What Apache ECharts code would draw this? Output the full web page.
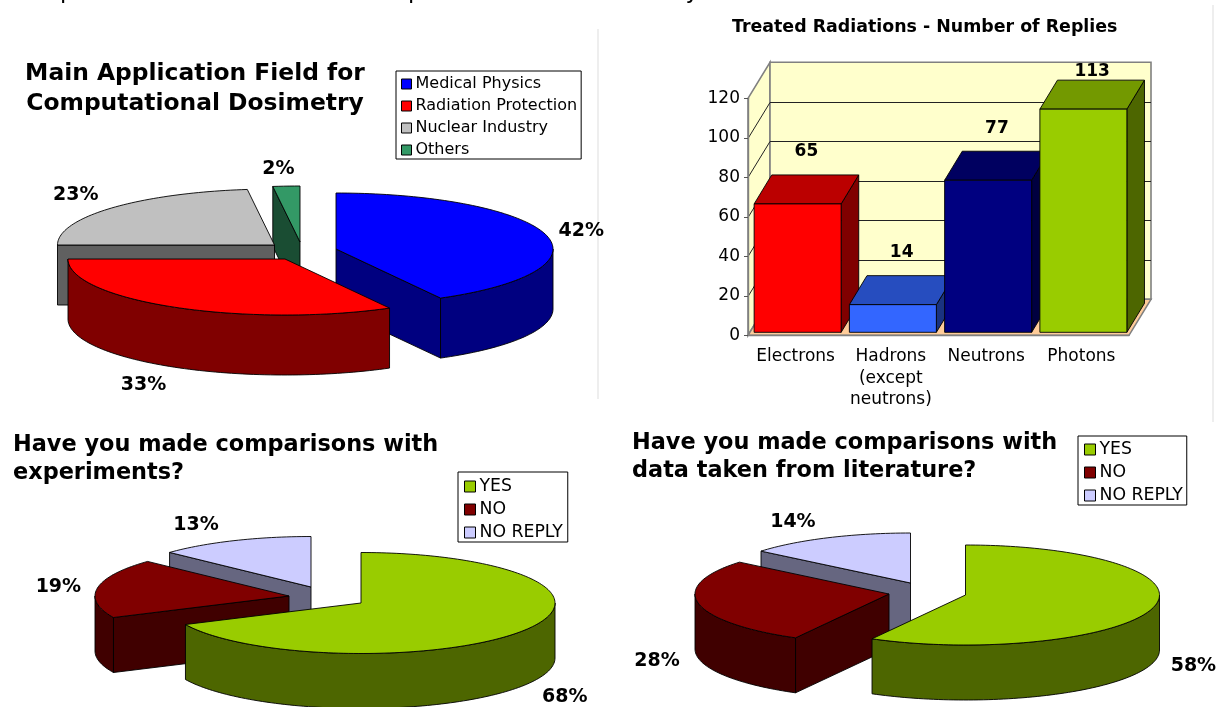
<!DOCTYPE html>
<html><head><meta charset="utf-8">
<style>html,body{margin:0;padding:0;background:#fff}#c{width:1230px;height:707px}</style>
<script src="https://cdn.jsdelivr.net/npm/echarts@6/dist/echarts.min.js"></script>
</head><body><div id="c"></div>
<script>
// ---- data ----
const fieldNames = ['Medical Physics','Radiation Protection','Nuclear Industry','Others'];
const fieldValues = [42,33,23,2];
const expNames = ['YES','NO','NO REPLY'];
const expValues = [68,19,13];
const litNames = ['YES','NO','NO REPLY'];
const litValues = [58,28,14];
const radiationCats = ['Electrons','Hadrons\n(except\nneutrons)','Neutrons','Photons'];
const radiationValues = [65,14,77,113];
const yTicks = [0,20,40,60,80,100,120];

// ---- styling / layout ----
const FONT = '"DejaVu Sans", Verdana, sans-serif';
const pies = [
 {names:fieldNames, values:fieldValues, rx:217, ry:56, depth:60, order:[3,2,0,1],
  colors:['#0000ff','#ff0000','#c0c0c0','#339966'], walls:['#000080','#800000','#606060','#1a4d33'],
  centers:[[336,249],[285,259],[274.5,245],[300,242]],
  labelOff:[[35,-4],[-31,78],[-36,-13],[-8,-17]]},
 {names:expNames, values:expValues, rx:194, ry:50.5, depth:55, order:[2,1,0],
  colors:['#99cc00','#800000','#ccccff'], walls:['#4d6600','#400000','#666680'],
  centers:[[361,603],[289,596],[311,587]],
  labelOff:[[40,67],[-39,-1],[-38,-16]]},
 {names:litNames, values:litValues, rx:194, ry:50, depth:55, order:[2,1,0],
  colors:['#99cc00','#800000','#ccccff'], walls:['#4d6600','#400000','#666680'],
  centers:[[965.5,595],[889,594],[910.5,583]],
  labelOff:[[40,59],[-41.5,58],[-35,-16]]}
];
const barFront=['#ff0000','#3366ff','#000080','#99cc00'];
const barTop=['#bb0000','#264dbf','#000060','#739900'];
const barSide=['#800000','#1a3380','#000040','#4d6600'];
const WALL={dx:22,dy:-36}, BAR={dx0:2,dy0:-3,dx:17.6,dy:-29,w:87};
const LBL=19;

const rad=d=>d*Math.PI/180;
function arcPts(c,rx,ry,a,b,dy){
  const pts=[],n=Math.max(2,Math.ceil(Math.abs(b-a)/1.5));
  for(let i=0;i<=n;i++){const t=rad(a+(b-a)*i/n);pts.push([c[0]+rx*Math.sin(t),c[1]-ry*Math.cos(t)+(dy||0)]);}
  return pts;
}
const stroke={stroke:'#000',lineWidth:0.9};
function poly(points,fill){return {type:'polygon',shape:{points},style:Object.assign({fill},stroke)};}
function pieSeries(p){
  const total=p.values.reduce((a,b)=>a+b,0);
  return p.order.map(i=>({
    type:'custom',name:p.names[i],coordinateSystem:'none',silent:true,animation:false,z:3,
    itemStyle:{color:p.colors[i]},data:[[p.values[i]]],
    renderItem(params,api){
      const v=api.value(0);
      const start=p.values.slice(0,i).reduce((a,b)=>a+b,0)/total*360, end=start+v/total*360;
      const c=p.centers[i],ch=[],d=p.depth;
      const edge=a=>arcPts(c,p.rx,p.ry,a,a,0)[0];
      const face=a=>{const e=edge(a);ch.push(poly([c,e,[e[0],e[1]+d],[c[0],c[1]+d]],p.walls[i]));};
      if(Math.sin(rad(start))<-1e-6)face(start);
      if(Math.sin(rad(end))>1e-6)face(end);
      const a0=Math.max(start,90),a1=Math.min(end,270);
      if(a1>a0){const top=arcPts(c,p.rx,p.ry,a0,a1,0),bot=arcPts(c,p.rx,p.ry,a1,a0,d);ch.push(poly(top.concat(bot),p.walls[i]));}
      ch.push(poly([c].concat(arcPts(c,p.rx,p.ry,start,end,0)),p.colors[i]));
      const m=edge((start+end)/2),o=p.labelOff[i];
      ch.push({type:'text',z2:50,style:{x:m[0]+o[0],y:m[1]+o[1],text:Math.round(v/total*100)+'%',font:'bold '+LBL+'px '+FONT,fill:'#000',align:'center',verticalAlign:'middle'}});
      return {type:'group',children:ch};
    }
  }));
}
const wallSeries={type:'custom',coordinateSystem:'cartesian2d',silent:true,animation:false,z:1,data:[[0,0]],
  renderItem(params,api){
    const g=params.coordSys,{dx,dy}=WALL,ch=[];
    const L=g.x,R=g.x+g.width,T=g.y,B=g.y+g.height;
    const s={stroke:'#808080',lineWidth:1.6};
    ch.push({type:'polygon',shape:{points:[[L,T],[L+dx,T+dy],[L+dx,B+dy],[L,B]]},style:Object.assign({fill:'#ffffcc'},s)});
    ch.push({type:'polygon',shape:{points:[[L+dx,T+dy],[R+dx,T+dy],[R+dx,B+dy],[L+dx,B+dy]]},style:Object.assign({fill:'#ffffcc'},s)});
    ch.push({type:'polygon',shape:{points:[[L,B],[R,B],[R+dx,B+dy],[L+dx,B+dy]]},style:Object.assign({fill:'#ffcc99'},s)});
    yTicks.forEach(v=>{
      if(v===0||v===120)return;
      const y=Math.round(api.coord([0,v])[1]+dy)-dy+0.5;
      const ls={stroke:'#222',lineWidth:1};
      ch.push({type:'polyline',shape:{points:[[L,y],[L+dx,y+dy],[R+dx,y+dy]]},style:Object.assign({fill:null},ls)});
    });
    return {type:'group',children:ch};
  }};
const barSeries={type:'custom',coordinateSystem:'cartesian2d',silent:true,animation:false,z:2,
  data:radiationValues.map((v,i)=>[i,v]),
  renderItem(params,api){
    const i=params.dataIndex,top=api.coord([i,api.value(1)]),base=api.coord([i,0]);
    const x0=top[0]-BAR.w/2+BAR.dx0,x1=x0+BAR.w,y0=top[1]+BAR.dy0,y1=base[1]+BAR.dy0,dx=BAR.dx,dy=BAR.dy;
    const ly=Math.max(y0+dy-23,72);
    return {type:'group',children:[
      poly([[x1,y0],[x1+dx,y0+dy],[x1+dx,y1+dy],[x1,y1]],barSide[i]),
      poly([[x0,y0],[x0+dx,y0+dy],[x1+dx,y0+dy],[x1,y0]],barTop[i]),
      poly([[x0,y0],[x1,y0],[x1,y1],[x0,y1]],barFront[i]),
      {type:'text',z2:50,style:{x:(x0+x1)/2+dx/2,y:ly,text:String(api.value(1)),font:'bold 17px '+FONT,fill:'#000',align:'center',verticalAlign:'middle'}}
    ]};
  }};
function legend(names,left,top,gap,pad,fs,icon){
  return {data:names,orient:'vertical',left,top,padding:pad,itemGap:gap,itemWidth:icon,itemHeight:icon,icon:'rect',
    selectedMode:false,backgroundColor:'#fff',borderColor:'#000',borderWidth:1,borderRadius:0,
    itemStyle:{borderColor:'#000',borderWidth:1},
    textStyle:{fontFamily:FONT,fontSize:fs,color:'#000',padding:[0,0,0,-1]}};
}
const axisGrey={lineStyle:{color:'#808080',width:1.4}};
const titleStyle=(s,lh)=>({fontFamily:FONT,fontWeight:'bold',fontSize:s,lineHeight:lh,color:'#000'});
const option={
  backgroundColor:'#fff',animation:false,
  title:[
    {text:'computational codes for radiation protection and dosimetry calculations',left:11,top:-19,padding:0,textStyle:{fontFamily:FONT,fontSize:23,color:'#000',fontWeight:'normal'}},
    {text:'Main Application Field for\nComputational Dosimetry',left:195,textAlign:'center',top:59,padding:0,textStyle:Object.assign(titleStyle(23.4,30),{align:'center'})},
    {text:'Treated Radiations - Number of Replies',left:732,top:18,padding:0,textStyle:titleStyle(17.4,18)},
    {text:'Have you made comparisons with\nexperiments?',left:13,top:431,padding:0,textStyle:titleStyle(22.4,28)},
    {text:'Have you made comparisons with\ndata taken from literature?',left:632,top:429,padding:0,textStyle:titleStyle(22.4,28)}
  ],
  legend:[legend(fieldNames,396,71,6,[5,4,1,5],16,10),legend(expNames,458,472,6,[6,5,1,6],17.3,11),legend(litNames,1078,436,6,[5,4,1,6],17.3,11)],
  grid:{left:748,top:98.3,width:381,height:237,containLabel:false},
  xAxis:{type:'category',data:radiationCats,z:5,axisLine:axisGrey,axisTick:{length:5,lineStyle:{color:'#555'}},
    axisLabel:{fontFamily:FONT,fontSize:17,color:'#000',lineHeight:21.5,margin:11,interval:0},splitLine:{show:false}},
  yAxis:{type:'value',min:0,max:120,interval:20,z:5,axisLine:{show:true,lineStyle:{color:'#808080',width:1.4}},
    axisTick:{show:true,length:4,lineStyle:{color:'#555'}},axisLabel:{fontFamily:FONT,fontSize:17,color:'#000',margin:8},splitLine:{show:false}},
  graphic:[
    {type:'line',shape:{x1:598,y1:29,x2:598,y2:399},style:{stroke:'#dddddd',lineWidth:1}},
    {type:'line',shape:{x1:1213,y1:5,x2:1213,y2:422},style:{stroke:'#dddddd',lineWidth:1}}
  ],
  series:[wallSeries,barSeries].concat(pies.flatMap(pieSeries))
};
const chart=echarts.init(document.getElementById('c'),null,{renderer:'canvas'});
chart.setOption(option);
</script></body></html>
